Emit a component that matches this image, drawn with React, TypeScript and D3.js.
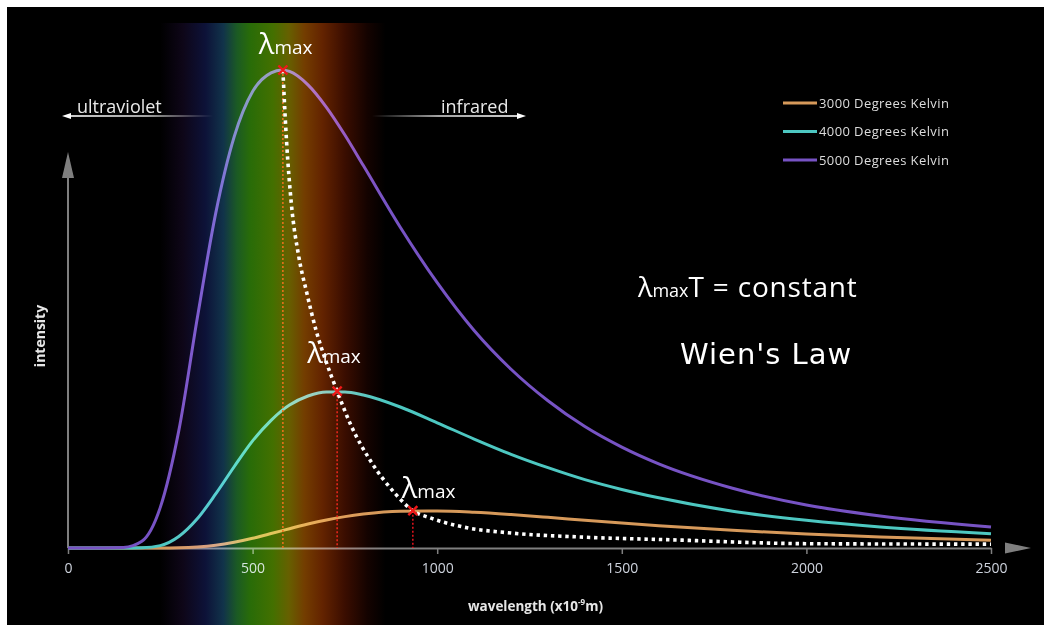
import React, { useEffect, useRef } from "react";
import * as d3 from "d3";

// wavelength samples (nm)
const wavelengths = [
  0, 100, 150, 200, 250, 300, 350, 400, 450, 500, 550, 580, 600, 650, 700,
  750, 800, 900, 1000, 1100, 1200, 1300, 1400, 1500, 1600, 1800, 2000, 2200, 2500
];

// intensity, 5000 K peak = 100
const kelvin5000 = [
  0, 0, 0.1, 1.4, 8.5, 24.5, 48, 70, 86, 95.5, 99.4, 100, 99.7, 96.9, 92.2,
  86.4, 80, 67.1, 55.5, 45.5, 37.4, 30.8, 25.4, 21.1, 17.6, 12.5, 9.0, 6.7, 4.4
];
const kelvin4000 = [
  0, 0, 0, 0.05, 0.5, 2.4, 6.1, 11.3, 17.0, 22.4, 26.7, 28.8, 29.9, 31.8, 32.65,
  32.65, 32.0, 29.5, 26.2, 22.8, 19.6, 16.8, 14.3, 12.25, 10.5, 7.7, 5.8, 4.4, 3.0
];
const kelvin3000 = [
  0, 0, 0, 0, 0, 0.04, 0.2, 0.56, 1.19, 2.03, 3.02, 3.63, 4.04, 5.01, 5.86,
  6.56, 7.09, 7.68, 7.75, 7.48, 7.0, 6.42, 5.81, 5.22, 4.66, 3.69, 2.91, 2.3, 1.64
];

const seriesNames = ["3000 Degrees Kelvin", "4000 Degrees Kelvin", "5000 Degrees Kelvin"];
const seriesColors = ["#d6995a", "#4dc7c1", "#7753c4"];

// lambda max marks
const peakWavelengths = [582, 729, 934];
const peakValues = [100, 32.8, 7.8];

// dotted line joining the peaks
const wienWavelengths = [
  582, 592, 605, 625, 647, 672, 700, 729, 768, 818, 886, 934, 981, 1070, 1205, 1387, 1639, 2002, 2500
];
const wienValues = [
  100, 85, 72, 61, 53.3, 45.5, 38.8, 32.8, 25.4, 18.4, 11.4, 7.8, 6.3, 4.4, 3.1, 2.3, 1.7, 0.9, 0.8
];

const xTicks = [0, 500, 1000, 1500, 2000, 2500];

// visible band, drawn on the wavelength scale
const spectrumRange = [250, 860];
const spectrumStops = [
  { offset: 0, color: "#000000" },
  { offset: 0.1, color: "#0e0618" },
  { offset: 0.2, color: "#0d1238" },
  { offset: 0.28, color: "#11334a" },
  { offset: 0.34, color: "#1b5a24" },
  { offset: 0.4, color: "#296c08" },
  { offset: 0.5, color: "#437000" },
  { offset: 0.57, color: "#666000" },
  { offset: 0.64, color: "#733d00" },
  { offset: 0.72, color: "#632300" },
  { offset: 0.82, color: "#3a0d00" },
  { offset: 0.92, color: "#140300" },
  { offset: 1, color: "#000000" }
];

const labelOffsets = [
  [-24, -16],
  [-30, -28],
  [-11, -13]
];

const sans = "'Open Sans', 'DejaVu Sans', sans-serif";

const App: React.FC = () => {
  const svgRef = useRef<SVGSVGElement>(null);
  const width = 1044;
  const height = 625;

  useEffect(() => {
    if (svgRef.current === null) return;
    const svg = d3.select(svgRef.current);
    svg.selectAll("*").remove();

    const x = d3.scaleLinear().domain([0, 2500]).range([68, 991]);
    const y = d3.scaleLinear().domain([0, 100]).range([548, 70]);
    const x0 = x(0);
    const y0 = y(0);

    // gradients
    const defs = svg.append("defs");
    const spec = defs.append("linearGradient").attr("id", "spectrum");
    spectrumStops.forEach(s =>
      spec.append("stop").attr("offset", s.offset).attr("stop-color", s.color)
    );
    const uv = defs.append("linearGradient").attr("id", "uvFade");
    uv.append("stop").attr("offset", 0).attr("stop-color", "#fff").attr("stop-opacity", 1);
    uv.append("stop").attr("offset", 0.55).attr("stop-color", "#fff").attr("stop-opacity", 0.8);
    uv.append("stop").attr("offset", 1).attr("stop-color", "#fff").attr("stop-opacity", 0);
    const ir = defs.append("linearGradient").attr("id", "irFade");
    ir.append("stop").attr("offset", 0).attr("stop-color", "#fff").attr("stop-opacity", 0);
    ir.append("stop").attr("offset", 0.45).attr("stop-color", "#fff").attr("stop-opacity", 0.8);
    ir.append("stop").attr("offset", 1).attr("stop-color", "#fff").attr("stop-opacity", 1);

    // background
    svg.append("rect").attr("width", width).attr("height", height).attr("fill", "#fff");
    svg
      .append("rect")
      .attr("x", 7)
      .attr("y", 7)
      .attr("width", width - 7)
      .attr("height", height - 7)
      .attr("fill", "#000");

    // x axis
    const xAxis = d3
      .axisBottom(x)
      .tickValues(xTicks)
      .tickSize(6)
      .tickSizeOuter(0)
      .tickPadding(9)
      .tickFormat(d => `${d}`);
    const gx = svg
      .append("g")
      .attr("transform", `translate(0, ${y0})`)
      .call(xAxis);
    gx.select(".domain").attr("stroke", "#7f7f7f").attr("stroke-width", 2);
    gx.selectAll(".tick line").attr("stroke", "#7f7f7f").attr("stroke-width", 1.5);
    gx.selectAll(".tick text")
      .attr("fill", "#cdd2dc")
      .attr("font-family", sans)
      .attr("font-size", 14);
    svg
      .append("path")
      .attr("d", `M1005,${y0 - 5.5}L1031,${y0}L1005,${y0 + 5.5}Z`)
      .attr("fill", "#7f7f7f");

    // y axis
    svg
      .append("line")
      .attr("x1", x0)
      .attr("x2", x0)
      .attr("y1", y0)
      .attr("y2", 176)
      .attr("stroke", "#7f7f7f")
      .attr("stroke-width", 2);
    svg
      .append("path")
      .attr("d", `M${x0 - 6},178L${x0},152L${x0 + 6},178Z`)
      .attr("fill", "#7f7f7f");

    // curves
    const line = d3
      .line<[number, number]>()
      .x(d => x(d[0]))
      .y(d => y(d[1]))
      .curve(d3.curveMonotoneX);

    [kelvin3000, kelvin4000, kelvin5000].forEach((vals, i) => {
      svg
        .append("path")
        .datum(wavelengths.map((w, j) => [w, vals[j]] as [number, number]))
        .attr("d", line)
        .attr("fill", "none")
        .attr("stroke", seriesColors[i])
        .attr("stroke-width", 3);
    });

    // red drop lines
    peakWavelengths.forEach((w, i) => {
      svg
        .append("line")
        .attr("x1", x(w))
        .attr("x2", x(w))
        .attr("y1", y(peakValues[i]))
        .attr("y2", y0)
        .attr("stroke", "#e8141c")
        .attr("stroke-width", 1.5)
        .attr("stroke-dasharray", "2,2");
    });

    // visible spectrum, screened over the curves
    svg
      .append("rect")
      .attr("x", x(spectrumRange[0]))
      .attr("y", 23)
      .attr("width", x(spectrumRange[1]) - x(spectrumRange[0]))
      .attr("height", height - 23)
      .attr("fill", "url(#spectrum)")
      .style("mix-blend-mode", "screen");

    // Wien displacement curve
    svg
      .append("path")
      .datum(wienWavelengths.map((w, j) => [w, wienValues[j]] as [number, number]))
      .attr("d", line)
      .attr("fill", "none")
      .attr("stroke", "#fff")
      .attr("stroke-width", 3.6)
      .attr("stroke-dasharray", "3.4,3.8");

    // peak crosses + labels
    peakWavelengths.forEach((w, i) => {
      const px = x(w);
      const py = y(peakValues[i]);
      svg
        .append("path")
        .attr("d", `M${px - 4.5},${py - 4.5}L${px + 4.5},${py + 4.5}M${px - 4.5},${py + 4.5}L${px + 4.5},${py - 4.5}`)
        .attr("stroke", "#f01818")
        .attr("stroke-width", 2.4);
      const t = svg
        .append("text")
        .attr("x", px + labelOffsets[i][0])
        .attr("y", py + labelOffsets[i][1])
        .attr("fill", "#fff")
        .attr("font-family", sans);
      t.append("tspan").attr("font-size", 29).text("λ");
      t.append("tspan").attr("font-size", 19).text("max");
    });

    // ultraviolet / infrared arrows
    svg.append("rect").attr("x", 66).attr("y", 115.2).attr("width", 147).attr("height", 1.6).attr("fill", "url(#uvFade)");
    svg.append("path").attr("d", "M62,116L71,113L71,119Z").attr("fill", "#fff");
    svg.append("rect").attr("x", 372).attr("y", 115.2).attr("width", 148).attr("height", 1.6).attr("fill", "url(#irFade)");
    svg.append("path").attr("d", "M526,116L517,113L517,119Z").attr("fill", "#fff");
    svg
      .append("text")
      .attr("x", 77)
      .attr("y", 113)
      .attr("fill", "#e8e8e8")
      .attr("font-family", sans)
      .attr("font-size", 18)
      .text("ultraviolet");
    svg
      .append("text")
      .attr("x", 441)
      .attr("y", 113)
      .attr("fill", "#e8e8e8")
      .attr("font-family", sans)
      .attr("font-size", 18)
      .text("infrared");

    // legend
    seriesNames.forEach((name, i) => {
      const ly = 103 + i * 28.5;
      svg
        .append("line")
        .attr("x1", 783)
        .attr("x2", 817)
        .attr("y1", ly)
        .attr("y2", ly)
        .attr("stroke", seriesColors[i])
        .attr("stroke-width", 3);
      svg
        .append("text")
        .attr("x", 819)
        .attr("y", ly + 4.5)
        .attr("fill", "#dcdcdc")
        .attr("font-family", sans)
        .attr("font-size", 13)
        .attr("letter-spacing", 0.4)
        .text(name);
    });

    // equation + title
    const eq = svg
      .append("text")
      .attr("x", 638)
      .attr("y", 297)
      .attr("fill", "#fff")
      .attr("font-family", sans);
    eq.append("tspan").attr("font-size", 27).text("λ");
    eq.append("tspan").attr("font-size", 18).text("max");
    eq.append("tspan").attr("font-size", 28).attr("letter-spacing", 0.8).text("T = constant");

    svg
      .append("text")
      .attr("x", 680)
      .attr("y", 364)
      .attr("fill", "#fff")
      .attr("font-family", "'Comic Sans MS', 'DejaVu Sans', sans-serif")
      .attr("font-size", 29)
      .attr("letter-spacing", 1)
      .text("Wien's Law");

    // axis titles
    svg
      .append("text")
      .attr("transform", "translate(45, 336) rotate(-90)")
      .attr("text-anchor", "middle")
      .attr("fill", "#e6e6e6")
      .attr("font-family", sans)
      .attr("font-weight", "bold")
      .attr("font-size", 14)
      .text("intensity");

    const xt = svg
      .append("text")
      .attr("x", 468)
      .attr("y", 611)
      .attr("fill", "#e6e6e6")
      .attr("font-family", sans)
      .attr("font-weight", "bold")
      .attr("font-size", 13.5);
    xt.append("tspan").text("wavelength (x10");
    xt.append("tspan").attr("font-size", 8).attr("dy", -6).text("-9");
    xt.append("tspan").attr("dy", 6).text("m)");
  }, []);

  return (
    <svg
      ref={svgRef}
      width={width}
      height={height}
      style={{ position: "absolute", left: 0, top: 0, display: "block" }}
    />
  );
};

export default App;
